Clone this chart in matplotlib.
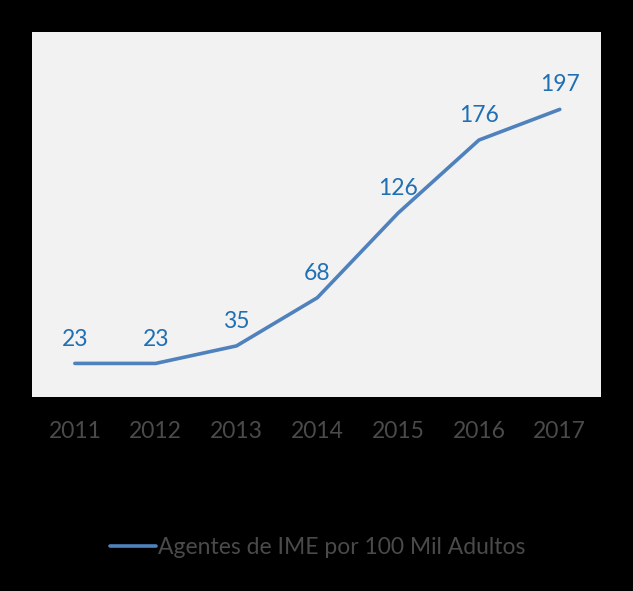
import matplotlib
matplotlib.use("Agg")
import matplotlib.pyplot as plt

years = ["2011", "2012", "2013", "2014", "2015", "2016", "2017"]
values = [23, 23, 35, 68, 126, 176, 197]
series_name = "Agentes de IME por 100 Mil Adultos"

plt.rcParams['font.family'] = ['Lato', 'DejaVu Sans']

fig = plt.figure(figsize=(6.33, 5.91), dpi=100, facecolor="black")
ax = fig.add_axes([32/633, 1-397/591, (601-32)/633, (397-32)/591])
ax.set_facecolor("#F2F2F2")

x = list(range(len(years)))
line, = ax.plot(x, values, color="#4F81BD", lw=2.6, solid_capstyle="round", label=series_name)
for xi, v in zip(x, values):
    ax.annotate(str(v), (xi, v), xytext=(0, 10), textcoords="offset points",
                ha="center", va="bottom", color="#1F6FB4", fontsize=16.5)

ax.set_xlim(-0.53, 6.51)
ax.set_ylim(0, 250)
ax.set_xticks(x)
ax.set_xticklabels(years, color="#4A4A4A", fontsize=16.5)
ax.tick_params(axis="x", length=0, pad=17)
ax.set_yticks([])
for s in ax.spines.values():
    s.set_visible(False)

leg = fig.legend(handles=[line], loc="center", bbox_to_anchor=(318/633, 1-548/591),
                 frameon=False, fontsize=16.5, handlelength=2.0, handletextpad=0.1)
for t in leg.get_texts():
    t.set_color("#4A4A4A")

fig.savefig("out.png", dpi=100, facecolor="black")
